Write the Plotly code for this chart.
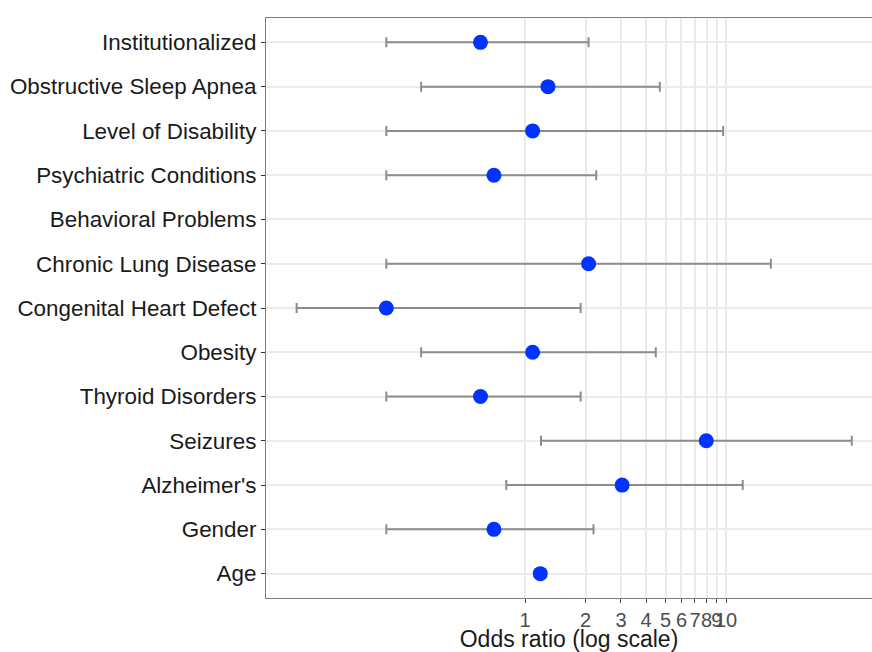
import plotly.graph_objects as go

categories = ["Institutionalized", "Obstructive Sleep Apnea", "Level of Disability",
              "Psychiatric Conditions", "Behavioral Problems", "Chronic Lung Disease",
              "Congenital Heart Defect", "Obesity", "Thyroid Disorders", "Seizures",
              "Alzheimer's", "Gender", "Age"]
odds_ratio = [0.60, 1.30, 1.09, 0.70, None, 2.07, 0.204, 1.09, 0.60, 7.97, 3.04, 0.70, 1.19]
ci_low = [0.204, 0.304, 0.204, 0.204, None, 0.204, 0.073, 0.304, 0.204, 1.20, 0.806, 0.204, 1.14]
ci_high = [2.07, 4.68, 9.67, 2.26, None, 16.7, 1.89, 4.47, 1.89, 42.2, 12.1, 2.19, 1.26]
tick_vals = [1, 2, 3, 4, 5, 6, 7, 8, 9, 10]

err_plus = [None if o is None else h - o for o, h in zip(odds_ratio, ci_high)]
err_minus = [None if o is None else o - l for o, l in zip(odds_ratio, ci_low)]

fig = go.Figure()
fig.add_trace(go.Scatter(
    x=odds_ratio, y=categories, mode="markers",
    marker=dict(color="#0033ff", size=15),
    error_x=dict(type="data", symmetric=False, array=err_plus, arrayminus=err_minus,
                 color="#8c8c8c", thickness=2, width=5),
    showlegend=False,
))

fig.add_vline(x=1, line=dict(color="#9a9a9a", width=1.5, dash="dash"), layer="below")

fig.update_layout(
    width=872, height=652,
    margin=dict(l=266, r=0, t=18, b=54, autoexpand=False),
    paper_bgcolor="white", plot_bgcolor="white",
    font=dict(family="Liberation Sans, Arial, sans-serif", size=22, color="#1a1a1a"),
    xaxis=dict(
        type="log", range=[-1.289, 1.726],
        tickvals=tick_vals, ticktext=[str(v) for v in tick_vals],
        tickangle=0, automargin=False,
        showgrid=True, gridcolor="#ebebeb", gridwidth=1.5,
        zeroline=False,
        showline=True, linecolor="#7f7f7f", linewidth=1.2, mirror=True,
        ticks="outside", ticklen=4, tickcolor="#4d4d4d",
        tickfont=dict(size=20, color="#4d4d4d"),
        title=dict(text="Odds ratio (log scale)", font=dict(size=23, color="#1a1a1a"), standoff=2),
    ),
    yaxis=dict(
        type="category", categoryorder="array", categoryarray=categories[::-1],
        range=[-0.55, 12.55], automargin=False,
        showgrid=True, gridcolor="#ebebeb", gridwidth=1.5,
        showline=True, linecolor="#7f7f7f", linewidth=1.2, mirror=True,
        ticks="outside", ticklen=4, tickcolor="#333333",
        tickfont=dict(size=22.4, color="#1a1a1a"),
    ),
)

fig.write_html(
    "out.html",
    config={"displayModeBar": False},
    post_script="document.body.style.margin='0';document.body.style.overflow='hidden';",
)
